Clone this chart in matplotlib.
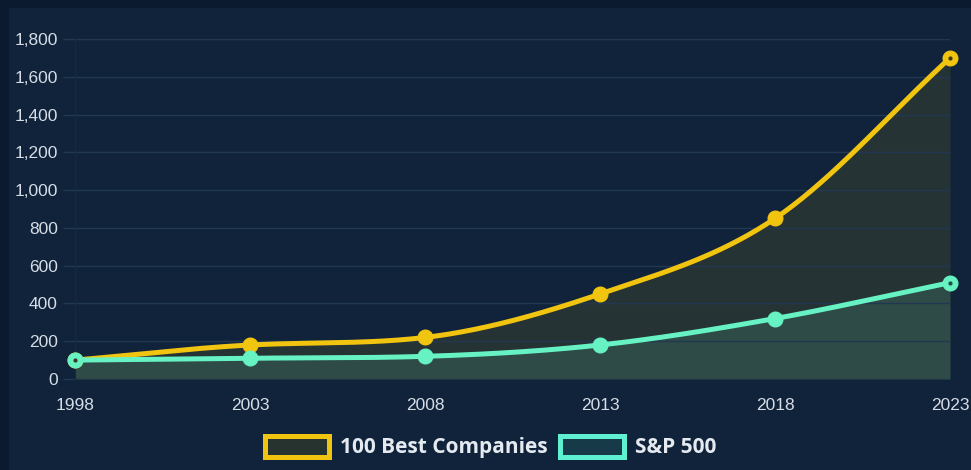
import numpy as np
import matplotlib.pyplot as plt
from matplotlib.patches import Rectangle, Patch

# Data
years = [1998, 2003, 2008, 2013, 2018, 2023]
best_100 = [100, 180, 220, 450, 850, 1700]
sp_500 = [100, 110, 120, 180, 320, 510]
y_ticks = [0, 200, 400, 600, 800, 1000, 1200, 1400, 1600, 1800]

BG_OUT = "#0b1a2e"
BG_IN = "#10233a"
YELLOW = "#f1c40f"
TEAL = "#66f2c2"
GRID = "#213850"
TEXT = "#d6dde6"


def monotone(x, y, n=40):
    # Fritsch-Carlson monotone cubic, for drawing the smooth line
    x = np.asarray(x, float)
    y = np.asarray(y, float)
    h = np.diff(x)
    d = np.diff(y) / h
    m = np.zeros_like(y)
    m[0], m[-1] = d[0], d[-1]
    for i in range(1, len(y) - 1):
        if d[i - 1] * d[i] <= 0:
            m[i] = 0
        else:
            m[i] = (d[i - 1] + d[i]) / 2
    for i in range(len(d)):
        if d[i] == 0:
            m[i] = m[i + 1] = 0
            continue
        a, b = m[i] / d[i], m[i + 1] / d[i]
        s = a * a + b * b
        if s > 9:
            t = 3 / np.sqrt(s)
            m[i], m[i + 1] = t * a * d[i], t * b * d[i]
    xs, ys = [], []
    for i in range(len(h)):
        t = np.linspace(0, 1, n)
        h00 = 2 * t**3 - 3 * t**2 + 1
        h10 = t**3 - 2 * t**2 + t
        h01 = -2 * t**3 + 3 * t**2
        h11 = t**3 - t**2
        xs.append(x[i] + t * h[i])
        ys.append(h00 * y[i] + h10 * h[i] * m[i] + h01 * y[i + 1] + h11 * h[i] * m[i + 1])
    return np.concatenate(xs), np.concatenate(ys)


fig = plt.figure(figsize=(9.71, 4.70), dpi=100)
fig.patch.set_facecolor(BG_OUT)
fig.add_artist(Rectangle((9 / 971, 0), 1, 1 - 8 / 470, transform=fig.transFigure,
                         facecolor=BG_IN, edgecolor="none", zorder=0))

ax = fig.add_axes([75 / 971, 1 - 379 / 470, 875 / 971, 340 / 470])
ax.set_facecolor("none")

bx, by = monotone(years, best_100)
sx, sy = monotone(years, sp_500)

ax.fill_between(bx, by, 0, color=YELLOW, alpha=0.1, linewidth=0, zorder=1)
ax.fill_between(sx, sy, 0, color=TEAL, alpha=0.13, linewidth=0, zorder=1)

ax.plot(bx, by, color=YELLOW, lw=3.6, solid_capstyle="round", zorder=3)
ax.plot(sx, sy, color=TEAL, lw=3.6, solid_capstyle="round", zorder=3)
ax.plot(years, best_100, "o", color=YELLOW, ms=10.5, zorder=4, clip_on=False)
ax.plot(years, sp_500, "o", color=TEAL, ms=10.5, zorder=4, clip_on=False)
# small dark centres on the end points
ax.plot([years[0], years[-1]], [best_100[0], best_100[-1]], "o", color="#3a3a20",
        ms=2, zorder=5, clip_on=False)
ax.plot([years[-1]], [sp_500[-1]], "o", color="#2a4a40", ms=2, zorder=5, clip_on=False)

ax.set_xlim(1998, 2023)
ax.set_ylim(0, 1800)
ax.set_xticks(years)
ax.set_xticklabels([str(y) for y in years])
ax.set_yticks(y_ticks)
ax.set_yticklabels([f"{v:,}" for v in y_ticks])
ax.grid(axis="y", color=GRID, lw=1)
ax.tick_params(axis="y", length=9, color=GRID, width=1, pad=3.5, labelsize=12.5,
               labelcolor=TEXT)
ax.tick_params(axis="x", length=0, pad=14, labelsize=12.5, labelcolor=TEXT)
for lab in ax.get_xticklabels() + ax.get_yticklabels():
    lab.set_family("Liberation Sans")
for side in ["top", "right", "bottom"]:
    ax.spines[side].set_visible(False)
ax.spines["left"].set_color("#17293f")

handles = [
    Patch(facecolor="#27332f", edgecolor=YELLOW, linewidth=3.6, label="100 Best Companies"),
    Patch(facecolor="#173a48", edgecolor="#5ef0d0", linewidth=3.6, label="S&P 500"),
]
fig.legend(handles=handles, loc="center", bbox_to_anchor=(0.505, 1 - 447 / 470),
           ncol=2, frameon=False, handlelength=3.1, handleheight=1.2,
           handletextpad=0.5, columnspacing=0.6,
           prop={"family": "Open Sans", "weight": "bold", "size": 15},
           labelcolor="#e4eaf0")

fig.savefig("out.png", dpi=100, facecolor=fig.get_facecolor())
